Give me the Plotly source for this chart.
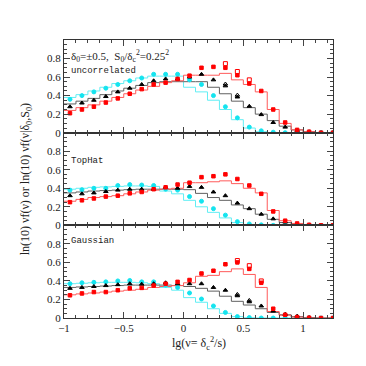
import numpy as np
import plotly.graph_objects as go
from plotly.subplots import make_subplots

# bin centres in lg(nu)
lgnu = [-0.95, -0.85, -0.75, -0.65, -0.55, -0.45, -0.35, -0.25, -0.15, -0.05,
        0.05, 0.15, 0.25, 0.35, 0.45, 0.55, 0.65, 0.75, 0.85, 0.95, 1.05, 1.15, 1.25]

# uncorrelated
unc_cyan_pts = [0.36, 0.40, 0.44, 0.48, 0.52, 0.56, 0.59, 0.63, 0.63, 0.63, 0.57, 0.52,
                0.40, 0.28, 0.16, 0.06, 0.02, 0.005, 0, 0, 0, 0, 0]
unc_cyan_line = [0.38, 0.41, 0.45, 0.49, 0.53, 0.56, 0.59, 0.61, 0.61, 0.61, 0.49, 0.44,
                 0.35, 0.25, 0.14, 0.05, 0.01, 0, 0, 0, 0, 0, 0]
unc_black_pts = [0.28, 0.32, 0.35, 0.39, 0.44, 0.48, 0.52, 0.56, 0.58, 0.58, 0.60, 0.63,
                 0.57, 0.505, 0.385, 0.285, 0.195, 0.11, 0.06, 0.025, 0.01, 0, 0]
unc_black_open = [None] * 13 + [0.525, 0.405] + [None] * 8
unc_black_line = [0.31, 0.34, 0.37, 0.41, 0.45, 0.48, 0.51, 0.54, 0.55, 0.55, 0.55, 0.55,
                  0.49, 0.42, 0.34, 0.27, 0.20, 0.13, 0.07, 0.03, 0.01, 0, 0]
unc_red_pts = [0.21, 0.25, 0.28, 0.325, 0.37, 0.42, 0.47, 0.52, 0.54, 0.58, 0.615, 0.70,
               0.71, 0.70, 0.62, 0.53, 0.45, 0.25, 0.11, 0.03, 0.01, 0, 0]
unc_red_open = [None] * 13 + [0.745, 0.66, 0.57] + [None] * 7
unc_red_line = [0.24, 0.27, 0.30, 0.34, 0.38, 0.42, 0.46, 0.50, 0.54, 0.56, 0.62, 0.62,
                0.62, 0.64, 0.57, 0.52, 0.44, 0.25, 0.10, 0.03, 0.01, 0, 0]

# TopHat
th_cyan_pts = [0.38, 0.385, 0.40, 0.40, 0.43, 0.44, 0.435, 0.43, 0.39, 0.38, 0.31, 0.26,
               0.18, 0.11, 0.04, 0.015, 0.005, 0, 0, 0, 0, 0, 0]
th_cyan_line = [0.39, 0.40, 0.41, 0.415, 0.42, 0.425, 0.425, 0.42, 0.37, 0.34, 0.27, 0.20,
                0.14, 0.08, 0.03, 0.01, 0, 0, 0, 0, 0, 0, 0]
th_black_pts = [0.32, 0.34, 0.35, 0.365, 0.38, 0.39, 0.39, 0.39, 0.41, 0.40, 0.42, 0.41,
                0.36, 0.32, 0.24, 0.18, 0.12, 0.07, 0.035, 0.015, 0.005, 0, 0]
th_black_line = [0.35, 0.36, 0.37, 0.375, 0.38, 0.385, 0.39, 0.39, 0.39, 0.39, 0.385, 0.345,
                 0.30, 0.27, 0.22, 0.18, 0.12, 0.065, 0.03, 0.01, 0, 0, 0]
th_red_pts = [0.25, 0.27, 0.29, 0.31, 0.32, 0.345, 0.36, 0.39, 0.41, 0.44, 0.46, 0.52,
              0.53, 0.55, 0.50, 0.43, 0.34, 0.15, 0.05, 0.02, 0.005, 0, 0]
th_red_line = [0.26, 0.28, 0.30, 0.31, 0.32, 0.34, 0.36, 0.38, 0.39, 0.40, 0.46, 0.46,
               0.47, 0.48, 0.45, 0.40, 0.35, 0.16, 0.05, 0.02, 0.005, 0, 0]

# Gaussian
ga_cyan_pts = [0.37, 0.38, 0.385, 0.39, 0.40, 0.405, 0.39, 0.39, 0.355, 0.33, 0.27, 0.205,
               0.13, 0.06, 0.015, 0.005, 0, 0, 0, 0, 0, 0, 0]
ga_cyan_line = [0.37, 0.375, 0.38, 0.385, 0.385, 0.385, 0.38, 0.37, 0.33, 0.30, 0.22, 0.17,
                0.10, 0.05, 0.015, 0.003, 0, 0, 0, 0, 0, 0, 0]
ga_black_pts = [0.32, 0.33, 0.34, 0.35, 0.36, 0.37, 0.365, 0.37, 0.38, 0.37, 0.37, 0.37,
                0.33, 0.30, 0.24, 0.175, 0.13, 0.075, 0.04, 0.02, 0.005, 0, 0]
ga_black_open = [None] * 14 + [0.255, 0.19] + [None] * 7
ga_black_line = [0.33, 0.335, 0.34, 0.345, 0.35, 0.355, 0.355, 0.355, 0.355, 0.35, 0.34, 0.32,
                 0.29, 0.235, 0.18, 0.14, 0.10, 0.06, 0.035, 0.015, 0.005, 0, 0]
ga_red_pts = [0.245, 0.265, 0.28, 0.28, 0.30, 0.32, 0.325, 0.35, 0.37, 0.39, 0.41, 0.48,
              0.51, 0.58, 0.60, 0.53, 0.38, 0.10, 0.035, 0.01, 0.003, 0, 0]
ga_red_open = [None] * 14 + [0.62, 0.565, 0.40] + [None] * 6
ga_red_line = [0.25, 0.26, 0.27, 0.28, 0.29, 0.30, 0.31, 0.33, 0.34, 0.35, 0.38, 0.45,
               0.46, 0.50, 0.53, 0.47, 0.33, 0.07, 0.03, 0.01, 0, 0, 0]

panels = [
    (unc_cyan_pts, unc_cyan_line, unc_black_pts, unc_black_open, unc_black_line,
     unc_red_pts, unc_red_open, unc_red_line),
    (th_cyan_pts, th_cyan_line, th_black_pts, None, th_black_line,
     th_red_pts, None, th_red_line),
    (ga_cyan_pts, ga_cyan_line, ga_black_pts, ga_black_open, ga_black_line,
     ga_red_pts, ga_red_open, ga_red_line),
]

RED, BLACK, CYAN = '#ff0000', '#000000', '#14e4ef'
RED_L, BLACK_L, CYAN_L = '#ff5a5a', '#606060', '#60eef4'

x = np.array(lgnu)
edges = np.append(x - 0.05, x[-1] + 0.05)

fig = make_subplots(rows=3, cols=1, shared_xaxes=True, vertical_spacing=0)


def step(y, color, row):
    yy = list(y) + [y[-1]]
    fig.add_trace(go.Scatter(x=edges, y=yy, mode='lines', line_shape='hv',
                             line=dict(color=color, width=1), showlegend=False,
                             hoverinfo='skip'), row=row, col=1)


def pts(y, color, symbol, row, size=4):
    fig.add_trace(go.Scatter(x=x, y=y, mode='markers',
                             marker=dict(color=color, symbol=symbol, size=size,
                                         line=dict(width=1, color=color)),
                             showlegend=False), row=row, col=1)


for i, (cp, cl, bp, bo, bl, rp, ro, rl) in enumerate(panels):
    row = i + 1
    step(cl, CYAN_L, row)
    step(bl, BLACK_L, row)
    step(rl, RED_L, row)
    pts(cp, CYAN, 'circle', row, 4)
    pts(bp, BLACK, 'triangle-up', row, 4)
    pts(rp, RED, 'square', row, 3.5)
    if bo is not None:
        pts(bo, BLACK, 'triangle-up-open', row, 4)
    if ro is not None:
        pts(ro, RED, 'square-open', row, 4)

tickfont = dict(family='Liberation Serif', size=11, color='#222')
for row in (1, 2, 3):
    fig.update_yaxes(range=[0, 1.0], tickvals=[0, 0.2, 0.4, 0.6, 0.8],
                     ticktext=['0', '0.2', '0.4', '0.6', '0.8'],
                     ticks='inside', ticklen=6, tickcolor='#444',
                     minor=dict(ticks='inside', ticklen=3, dtick=0.05, tickcolor='#444'),
                     showline=True, linecolor='#333', linewidth=1, mirror='allticks',
                     showgrid=False, zeroline=False, tickfont=tickfont, row=row, col=1)
    fig.update_xaxes(range=[-1, 1.25], tickvals=[-1, -0.5, 0, 0.5, 1],
                     ticktext=['\u22121', '\u22120.5', '0', '0.5', '1'],
                     ticks='inside', ticklen=6, tickcolor='#444',
                     minor=dict(ticks='inside', ticklen=3, dtick=0.1, tickcolor='#444'),
                     showline=True, linecolor='#333', linewidth=1, mirror='allticks',
                     showgrid=False, zeroline=False, tickfont=tickfont, row=row, col=1)

lab = dict(family='Liberation Mono', size=9, color='#222')
fig.add_annotation(text='\u03b4<sub>0</sub>=\u00b10.5,  S<sub>0</sub>/\u03b4<sub>c</sub><sup>2</sup>=0.25<sup>2</sup>',
                   xref='x domain', yref='y domain', x=0.02, y=0.83, xanchor='left',
                   yanchor='middle', showarrow=False,
                   font=dict(family='Liberation Serif', size=11, color='#222'))
fig.add_annotation(text='uncorrelated', xref='x domain', yref='y domain', x=0.02, y=0.67,
                   xanchor='left', yanchor='middle', showarrow=False, font=lab)
fig.add_annotation(text='TopHat', xref='x2 domain', yref='y2 domain', x=0.02, y=0.69,
                   xanchor='left', yanchor='middle', showarrow=False, font=lab)
fig.add_annotation(text='Gaussian', xref='x3 domain', yref='y3 domain', x=0.02, y=0.83,
                   xanchor='left', yanchor='middle', showarrow=False, font=lab)
fig.add_annotation(text='ln(10) \u03bdf(\u03bd) or ln(10) \u03bdf(\u03bd|\u03b4<sub>0</sub>,S<sub>0</sub>)',
                   xref='paper', yref='paper', x=-0.14, y=0.5, textangle=-90,
                   xanchor='center', yanchor='middle', showarrow=False,
                   font=dict(family='Liberation Serif', size=12, color='#222'))
fig.add_annotation(text='lg(\u03bd= \u03b4<sub>c</sub><sup>2</sup>/s)',
                   xref='paper', yref='paper', x=0.5, y=-0.09,
                   xanchor='center', yanchor='middle', showarrow=False,
                   font=dict(family='Liberation Serif', size=12, color='#222'))

fig.update_layout(width=366, height=366, margin=dict(l=56, r=41, t=32, b=56),
                  plot_bgcolor='white', paper_bgcolor='white')

fig.write_html('out.html')
